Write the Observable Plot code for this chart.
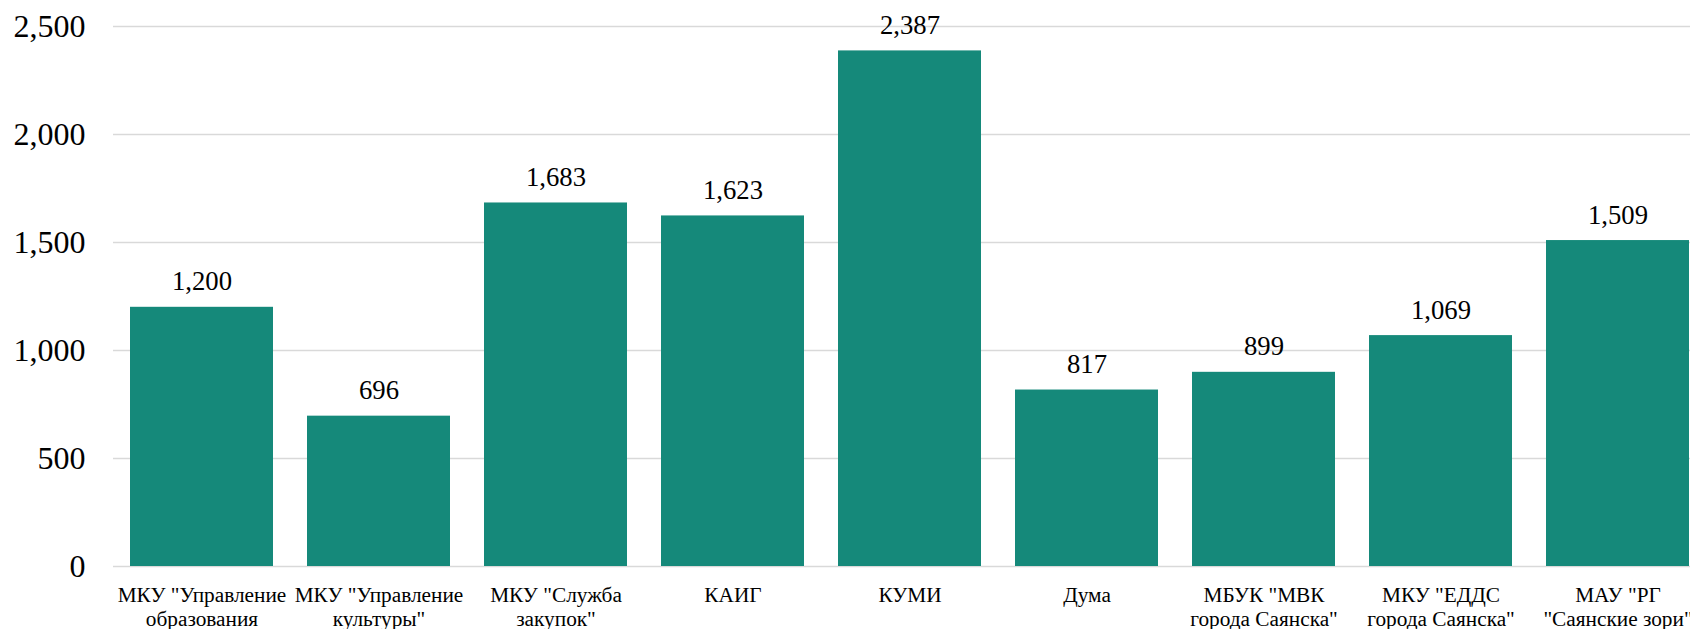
<!DOCTYPE html>
<html>
<head>
<meta charset="utf-8">
<script src="https://cdn.jsdelivr.net/npm/d3@7"></script>
<script src="https://cdn.jsdelivr.net/npm/@observablehq/plot@0.6"></script>
<style>
  html, body { margin: 0; padding: 0; background: #fff; overflow: hidden; }
  #chart svg { display: block; font-family: "Liberation Serif", "Times New Roman", serif !important; }
  #chart svg text { font-family: "Liberation Serif", "Times New Roman", serif !important; }
</style>
</head>
<body>
<div id="chart"></div>
<script>
const categories = [
  'МКУ "Управление образования',
  'МКУ "Управление культуры"',
  'МКУ "Служба закупок"',
  'КАИГ',
  'КУМИ',
  'Дума',
  'МБУК "МВК города Саянска"',
  'МКУ "ЕДДС города Саянска"',
  'МАУ "РГ "Саянские зори"'
];
const tickLabels = [
  'МКУ "Управление\nобразования',
  'МКУ "Управление\nкультуры"',
  'МКУ "Служба\nзакупок"',
  'КАИГ',
  'КУМИ',
  'Дума',
  'МБУК "МВК\nгорода Саянска"',
  'МКУ "ЕДДС\nгорода Саянска"',
  'МАУ "РГ\n"Саянские зори"'
];
const values = [1200, 696, 1683, 1623, 2387, 817, 899, 1069, 1509];
const yTicks = [0, 500, 1000, 1500, 2000, 2500];

const data = categories.map((c, i) => ({category: c, value: values[i]}));
const labelOf = new Map(categories.map((c, i) => [c, tickLabels[i]]));
const fmt = d3.format(",");
const serif = '"Liberation Serif", "Times New Roman", serif';

const chart = Plot.plot({
  width: 1690,
  height: 629,
  marginLeft: 113,
  marginRight: 0,
  marginTop: 26,
  marginBottom: 63,
  style: {fontFamily: serif, color: "#000", background: "#fff", overflow: "hidden"},
  x: {domain: categories, range: [113, 1706], paddingInner: 0.194, paddingOuter: 0.097, label: null},
  y: {domain: [0, 2500], label: null},
  marks: [
    Plot.ruleY(yTicks, {stroke: "#d9d9d9", strokeWidth: 1.3}),
    Plot.barY(data, {x: "category", y: "value", fill: "#15897a"}),
    Plot.text(data, {x: "category", y: "value", text: d => fmt(d.value), lineAnchor: "bottom", dy: -17, fontSize: 26.7, fontFamily: serif, fill: "#000"}),
    Plot.axisY({ticks: yTicks, tickFormat: fmt, tickSize: 0, tickPadding: 28, fontSize: 32, fontFamily: serif, fill: "#000"}),
    Plot.axisX({tickSize: 0, tickPadding: 18, fontSize: 21.3, lineHeight: 1.13, fontFamily: serif, tickFormat: d => labelOf.get(d), fill: "#000"})
  ]
});
document.getElementById("chart").appendChild(chart);
</script>
</body>
</html>
